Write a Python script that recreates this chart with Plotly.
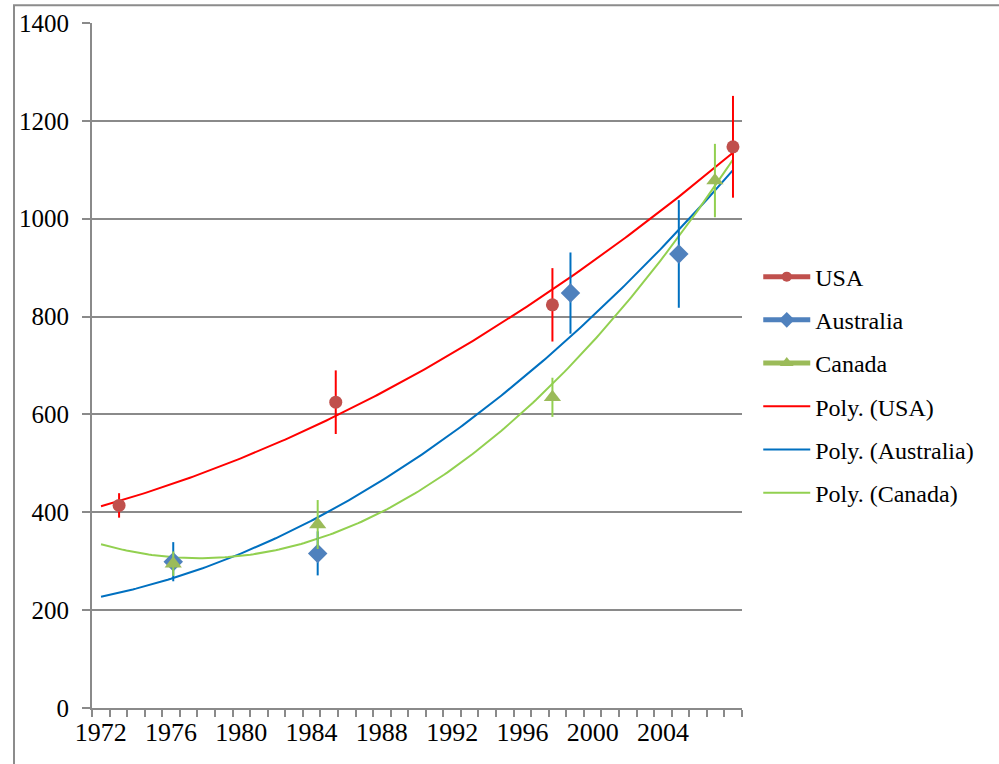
import numpy as np
import plotly.graph_objects as go

# ---- data ----
usa_years = [1973, 1985, 1997, 2007]
usa_vals = [414, 625, 824, 1147]
usa_err = [25, 65, 75, 104]

aus_years = [1976, 1984, 1998, 2004]
aus_vals = [299, 316, 848, 928]
aus_err = [40, 45, 83, 110]

can_years = [1976, 1984, 1997, 2006]
can_vals = [295, 375, 635, 1078]
can_err = [25, 50, 40, 75]

label_years = list(range(1972, 2005, 4))
label_text = [str(y) for y in label_years]
y_ticks = list(range(0, 1401, 200))

FONT = "'Liberation Serif', 'Times New Roman', Times, serif"
GRID = "#8a8a8a"

series = [
    ("USA", usa_years, usa_vals, usa_err, "#C0504D", "circle", 13, "#FF0000", "#FF0000"),
    ("Australia", aus_years, aus_vals, aus_err, "#4F81BD", "diamond", 15, "#0070C0", "#0070C0"),
    ("Canada", can_years, can_vals, can_err, "#9BBB59", "triangle-up", 15, "#92D050", "#92D050"),
]

fig = go.Figure()

# trendlines (2nd order polynomial fits of each series)
trend = []
for name, xs, ys, es, mcol, sym, msz, ecol, tcol in series:
    coef = np.polyfit(xs, ys, 2)
    tx = np.linspace(1972, 2007, 200)
    trend.append((name, tx, np.polyval(coef, tx), tcol))
for name, tx, ty, tcol in trend:
    fig.add_trace(go.Scatter(x=tx, y=ty, mode="lines", line=dict(color=tcol, width=2),
                             showlegend=False, hoverinfo="skip"))

# data points with error bars
for name, xs, ys, es, mcol, sym, msz, ecol, tcol in series:
    fig.add_trace(go.Scatter(
        x=xs, y=ys, mode="markers",
        marker=dict(symbol=sym, size=msz, color=mcol),
        error_y=dict(type="data", array=es, visible=True, color=ecol, thickness=2, width=0),
        showlegend=False))

# legend entries
for i, (name, xs, ys, es, mcol, sym, msz, ecol, tcol) in enumerate(series):
    fig.add_trace(go.Scatter(x=[None], y=[None], mode="lines+markers", name=name,
                             legendgroup="g%d" % i,
                             line=dict(color=mcol, width=5),
                             marker=dict(symbol=sym, size=msz - 3, color=mcol)))
for i, (name, tx, ty, tcol) in enumerate(trend):
    fig.add_trace(go.Scatter(x=[None], y=[None], mode="lines", name="Poly. (%s)" % name,
                             legendgroup="t%d" % i,
                             line=dict(color=tcol, width=2)))

# helper trace for the labelled category axis
fig.add_trace(go.Scatter(x=[label_years[0]], y=[None], xaxis="x2", mode="markers",
                         showlegend=False, hoverinfo="skip"))

fig.update_layout(
    width=999, height=764,
    margin=dict(l=92, r=257, t=23, b=56, autoexpand=False),
    paper_bgcolor="white", plot_bgcolor="white",
    font=dict(family=FONT, size=25, color="black"),
    xaxis=dict(range=[1971.5, 2007.5], visible=False, showgrid=False, zeroline=False,
               automargin=False),
    xaxis2=dict(overlaying="x", anchor="y", side="bottom", range=[1971.5, 2008.5],
                tickmode="array", tickvals=label_years, ticktext=label_text,
                ticks="", showgrid=False, zeroline=False, automargin=False,
                showline=True, linecolor=GRID, linewidth=2,
                tickfont=dict(family=FONT, size=26),
                minor=dict(tickmode="linear", tick0=1971.5, dtick=1, ticks="outside",
                           ticklen=7, tickcolor=GRID, tickwidth=1.5, showgrid=False)),
    yaxis=dict(range=[0, 1400], tickvals=y_ticks, showgrid=True, gridcolor=GRID, gridwidth=2,
               zeroline=False, showline=True, linecolor=GRID, linewidth=2, automargin=False,
               ticks="outside", ticklen=8, tickcolor=GRID, tickwidth=2,
               ticklabelstandoff=8, tickfont=dict(family=FONT, size=25)),
    legend=dict(x=1.025, y=0.662, xanchor="left", yanchor="top",
                traceorder="grouped", tracegroupgap=9, itemwidth=47,
                font=dict(family=FONT, size=24), bgcolor="rgba(0,0,0,0)"),
    shapes=[dict(type="rect", xref="paper", yref="paper",
                 x0=-0.12, y0=-0.2, x1=1.6, y1=1.026,
                 line=dict(color="#8c8c8c", width=2), fillcolor="rgba(0,0,0,0)", layer="below")],
)

fig.write_html("out.html", config={"displayModeBar": False},
               post_script="document.body.style.margin='0';")
